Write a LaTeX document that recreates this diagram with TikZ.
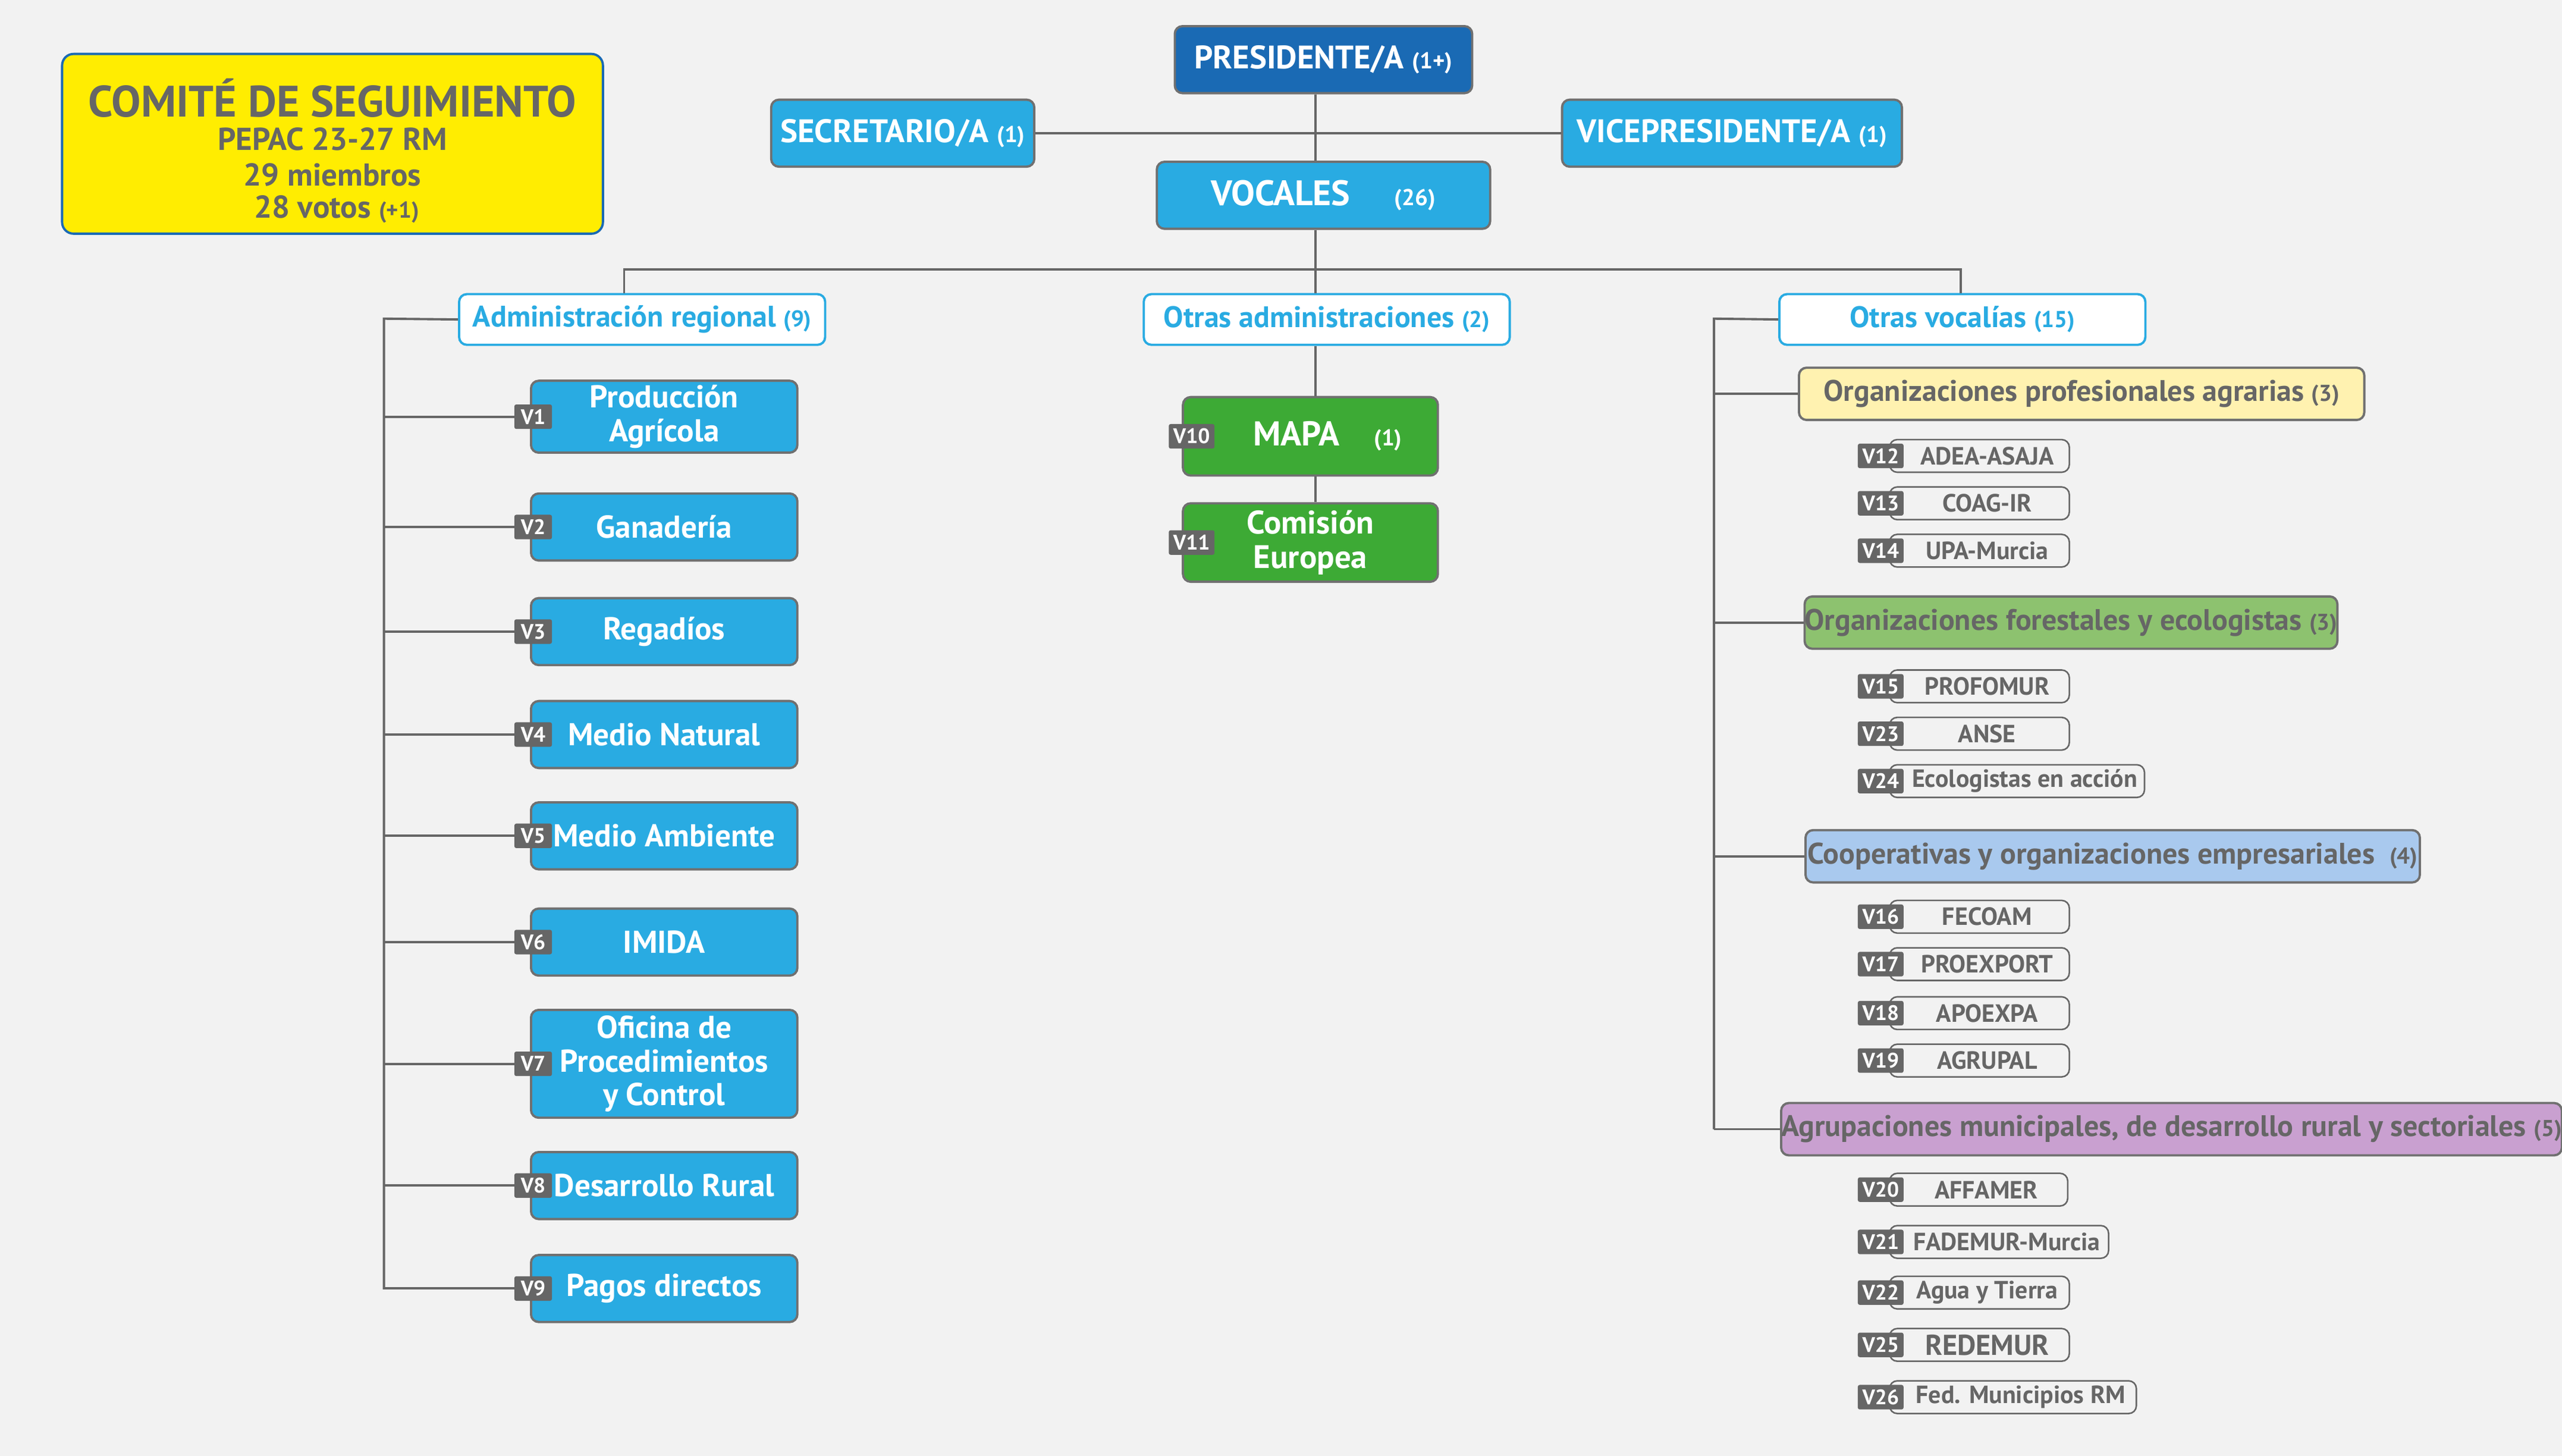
\documentclass[tikz,border=0pt]{standalone}
\usepackage{fontspec}
\setmainfont{PT Sans}
\usetikzlibrary{positioning}
\newlength\pw \setlength\pw{0.03cm}
\definecolor{bgc}{HTML}{F2F2F2}
\definecolor{lblue}{HTML}{29ABE2}
\definecolor{dblue}{HTML}{1A6AB4}
\definecolor{vgreen}{HTML}{3DAA35}
\definecolor{lgray}{HTML}{707070}
\definecolor{tgray}{HTML}{666666}
\definecolor{cyel}{HTML}{FFF2B0}
\definecolor{cgreen}{HTML}{8DC26F}
\definecolor{cblue}{HTML}{A9C9EE}
\definecolor{cpink}{HTML}{C9A0D0}
\newcommand\sm[1]{{\fontsize{12}{14}\selectfont #1}}
\tikzset{
  link/.style={draw=tgray,line width=1.2pt},
  box/.style={draw=lgray,line width=1.2pt,rounded corners=4pt,text=white,font=\bfseries,align=center,inner sep=0pt},
  head/.style={box,fill=lblue,font=\fontsize{17}{19}\selectfont\bfseries,minimum height=41\pw},
  outl/.style={box,fill=white,draw=lblue,text=lblue,minimum width=224\pw,minimum height=31\pw,font=\fontsize{15.5}{17}\selectfont\bfseries},
  reg/.style={box,fill=lblue,minimum width=163\pw,font=\fontsize{16.5}{17.5}\selectfont\bfseries},
  cat/.style={box,text=tgray,minimum height=32\pw,font=\fontsize{15.5}{17}\selectfont\bfseries},
  item/.style={box,draw=tgray,line width=0.8pt,fill=bgc,text=tgray,minimum height=20\pw,font=\fontsize{13}{15}\selectfont\bfseries},
  tag/.style={fill=tgray,text=white,rounded corners=1pt,minimum width=23\pw,minimum height=15\pw,inner sep=0pt,font=\fontsize{11}{12}\selectfont\bfseries},
  ttl/.style={text=tgray,font=\fontsize{16.5}{18}\selectfont\bfseries,inner sep=0pt},
}
\begin{document}
\begin{tikzpicture}[x=0.03cm,y=-0.03cm]
  \fill[bgc] (0,0) rectangle (1568,891);
  \useasboundingbox (0,0) rectangle (1568,891);
  % titulo
  \node[draw=dblue,fill=yellow!95!orange,line width=1.2pt,rounded corners=6pt,minimum width=331\pw,minimum height=110\pw] (tit) at (203.5,88) {};
  \node[ttl,font=\fontsize{23}{25}\selectfont\bfseries] (t1) at (203.5,60) {COMITÉ DE SEGUIMIENTO};
  \node[ttl] (t2) at (203.5,85) {PEPAC 23-27 RM};
  \node[ttl] (t3) at (203.5,107) {29 miembros};
  \node[ttl] (t4) at (206,128) {28 votos \sm{(+1)}};
  % cabecera
  \node[head,fill=dblue,minimum width=182\pw] (pres) at (810,36.5) {PRESIDENTE/A \sm{(1+)}};
  \node[head,minimum width=161\pw] (sec) at (552.5,81.5) {SECRETARIO/A \sm{(1)}};
  \node[head,minimum width=208\pw] (vice) at (1060,81.5) {VICEPRESIDENTE/A \sm{(1)}};
  \node[head,minimum width=204\pw,font=\fontsize{18.5}{20}\selectfont\bfseries] (voc) at (810,119.5) {VOCALES \quad\sm{(26)}};
  \draw[link] (sec.east) -- (vice.west);
  \draw[link] (pres.south -| 805,0) -- (voc.north -| 805,0);
  \coordinate (hub) at (805,165);
  \draw[link] (voc.south -| hub) -- (hub);
  \node[outl] (adm) at (393,195.5) {Administración regional \sm{(9)}};
  \node[outl] (otra) at (812,195.5) {Otras administraciones \sm{(2)}};
  \node[outl] (otv) at (1201,195.5) {Otras vocalías \sm{(15)}};
  \draw[link] (adm.north -| 382,0) |- (hub) -| (otv.north -| 1200,0);
  \draw[link] (hub) -- (otra.north -| hub);
  % administracion regional
  \coordinate (ltr) at (235,195);
  \draw[link] (adm.west) -- (ltr) -- (235,789);
  \foreach \n/\y/\h/\t in {1/255/44/{Producción\\Agrícola},2/322.5/41/Ganadería,3/386.5/41/Regadíos,
      4/449.5/41/Medio Natural,5/511.5/41/Medio Ambiente,6/576.5/41/IMIDA,
      7/651/66/{Oficina de\\Procedimientos\\y Control},8/725.5/41/Desarrollo Rural,9/788.5/41/Pagos directos}{
    \node[reg,minimum height=\h\pw] (b\n) at (406.5,\y) {\t};
    \draw[link] (ltr |- b\n.west) -- (b\n.west);
    \node[tag] at ([xshift=2\pw]b\n.west) {V\n};
  }
  % otras administraciones
  \node[box,fill=vgreen,minimum width=156\pw,minimum height=48\pw,font=\fontsize{18}{20}\selectfont\bfseries] (mapa) at (802,267) {\hspace*{1em}MAPA\quad\sm{(1)}};
  \node[box,fill=vgreen,minimum width=156\pw,minimum height=48\pw,font=\fontsize{17}{18}\selectfont\bfseries] (ce) at (802,332) {Comisión\\Europea};
  \draw[link] (otra.south -| 805,0) -- (mapa.north -| 805,0);
  \draw[link] (mapa.south -| 805,0) -- (ce.north -| 805,0);
  \node[tag,minimum width=28\pw] at ([xshift=6\pw]mapa.west) {V10};
  \node[tag,minimum width=28\pw] at ([xshift=6\pw]ce.west) {V11};
  % otras vocalias
  \coordinate (rtr) at (1049,195);
  \draw[link] (otv.west) -- (rtr) -- (1049,691);
  \node[cat,fill=cyel,minimum width=346\pw] (c1) at (1274,241) {Organizaciones profesionales agrarias \sm{(3)}};
  \node[cat,fill=cgreen,minimum width=325\pw] (c2) at (1267.5,381) {Organizaciones forestales y ecologistas \sm{(3)}};
  \node[cat,fill=cblue,minimum width=376\pw] (c3) at (1293,524) {Cooperativas y organizaciones empresariales \ \sm{(4)}};
  \node[cat,fill=cpink,minimum width=448\pw] (c4) at (1329,691) {Agrupaciones municipales, de desarrollo rural y sectoriales \sm{(5)}};
  \foreach \c in {1,...,4}
    \draw[link] (rtr |- c\c.west) -- (c\c.west);
  \foreach \n/\y/\w/\t in {12/279/110/ADEA-ASAJA,13/308/110/COAG-IR,14/337/110/UPA-Murcia,
      15/420/110/PROFOMUR,23/449/110/ANSE,24/478/156/Ecologistas en acción,
      16/561/110/FECOAM,17/590/110/PROEXPORT,18/620/110/APOEXPA,19/649/110/AGRUPAL,
      20/728/109/AFFAMER,21/760/134/FADEMUR-Murcia,22/791/110/Agua y Tierra,
      25/823/110/{\fontsize{15}{17}\selectfont REDEMUR},26/855/151/Fed. Municipios RM}{
    \node[item,minimum width=\w\pw,anchor=west] (i\n) at (1156,\y) {\hspace*{8pt}\t};
    \node[tag,minimum width=28\pw] at (1151,\y) {V\n};
  }
\end{tikzpicture}
\end{document}
